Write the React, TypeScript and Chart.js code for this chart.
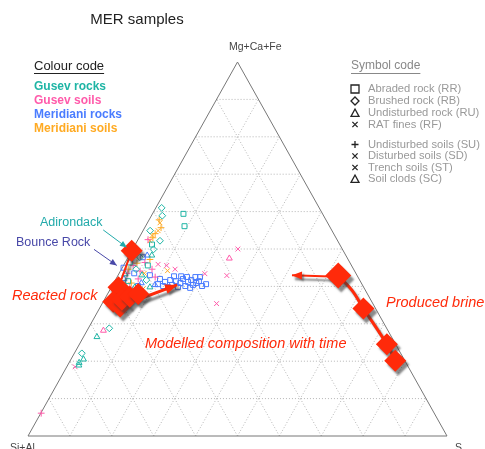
import React, { useEffect, useRef } from 'react';
import { Chart, registerables } from 'chart.js';
Chart.register(...registerables);

// Each point: [S %, Mg+Ca+Fe %]  (Si+Al = 100 - S - MgCaFe)
type P = [number, number];

const cornerLabels = ['Mg+Ca+Fe', 'Si+Al', 'S'];
const gridSteps = [10, 20, 30, 40, 50, 60, 70, 80, 90];

const seriesNames = ['Gusev rocks', 'Gusev soils', 'Meridiani rocks', 'Meridiani soils'];
const seriesColors = ['#1fb5a5', '#ff5aaa', '#4a7cff', '#ffaa22'];

const symbolNames = [
  'Abraded rock (RR)', 'Brushed rock (RB)', 'Undisturbed rock (RU)', 'RAT fines (RF)',
  'Undisturbed soils (SU)', 'Disturbed soils (SD)', 'Trench soils (ST)', 'Soil clods (SC)',
];
const symbolStyles = ['rect', 'rectRot', 'triangle', 'crossRot', 'cross', 'crossRot', 'crossRot', 'triangle'];

// Gusev rocks
const gusevRocksRR: P[] = [[7.4, 59.4], [9.3, 56.1], [4.0, 51.2], [1.1, 46.4], [3.2, 41.4], [5.8, 45.6]];
const gusevRocksRB: P[] = [[1.4, 61.0], [2.6, 58.9], [5.4, 52.2], [5.0, 49.9], [1.7, 54.9], [5.0, 28.8], [1.8, 22.1], [3.5, 44.6], [7.4, 41.7], [2.8, 47.8], [6.0, 37.7]];
const gusevRocksRU: P[] = [[5.4, 48.3], [3.2, 26.5], [3.0, 20.5], [2.4, 19.6], [2.7, 18.9], [7.0, 39.3], [5.7, 43.0], [5.6, 39.8], [1.5, 43.3], [9.2, 39.8]];
// Gusev soils
const gusevSoilsSU: P[] = [[2.4, 52.5], [2.3, 45.6], [4.7, 44.1], [4.7, 46.4], [7.3, 44.6], [5.3, 42.0], [4.4, 39.8], [9.1, 42.5], [0.1, 6.1], [1.9, 43.5]];
const gusevSoilsSD: P[] = [[25.1, 50.0], [20.5, 43.4], [26.0, 42.9], [27.3, 35.4], [8.1, 45.9], [10.3, 45.6], [2.0, 18.5], [12.8, 44.6]];
const gusevSoilsSC: P[] = [[24.3, 47.5], [3.9, 28.2]];
// Meridiani rocks
const meridianiRocksRR: P[] = [
  [10.5, 42.0], [12.1, 41.2], [13.1, 41.7], [14.2, 40.4], [14.6, 41.4], [15.9, 40.9], [16.0, 42.0],
  [17.5, 40.1], [17.6, 41.2], [18.1, 41.7], [19.2, 40.4], [19.7, 40.9], [20.1, 41.4], [21.5, 40.1],
  [22.2, 40.6], [15.9, 39.8], [13.5, 39.8], [12.2, 40.1], [16.7, 42.5], [18.7, 42.5], [15.2, 42.7],
  [13.5, 42.7], [10.7, 40.6], [19.8, 42.5], [18.9, 39.6],
  [0.3, 45.0], [3.5, 47.8], [3.6, 43.5], [4.8, 38.3], [6.2, 40.1], [7.6, 43.0],
];
const meridianiRocksRU: P[] = [[10.1, 40.4], [6.6, 40.9], [4.3, 48.3], [1.9, 42.0]];
// Meridiani soils
const meridianiSoilsSU: P[] = [[2.4, 57.8], [3.9, 55.7], [3.3, 53.0], [3.3, 54.1], [2.9, 46.2], [5.5, 47.2], [4.2, 40.9], [1.6, 44.6]];
const meridianiSoilsSD: P[] = [[3.0, 57.0], [3.6, 54.9], [3.0, 52.2], [2.8, 53.6], [11.2, 44.2], [6.0, 43.5], [7.8, 39.3]];

// Model (reacted rock and produced brine)
const reactedRockPath: P[] = [[0.0, 49.5], [1.7, 39.8]];
const reactedRockSteps: P[] = [[0.0, 49.5], [1.7, 39.8], [2.4, 35.9], [4.7, 34.6], [4.2, 36.4], [5.7, 37.2], [7.3, 38.0]];
const reactedRockArrow: P[] = [[8.4, 36.7], [15.4, 40.4]];
const brinePath: P[] = [[52.6, 42.9], [57.8, 39.0], [63.0, 34.1], [73.4, 24.5], [77.6, 20.1]];
const brineSteps: P[] = [[52.6, 42.9], [63.0, 34.1], [73.4, 24.5], [77.6, 20.1]];
const brineStepSizes = [13, 11, 11, 11];
const brineArrow: P[] = [[52.6, 42.6], [41.5, 43.0]];
// label pointers
const adirondackArrow: P[] = [[-9.6, 55.1], [-1.6, 50.4]];
const bounceRockArrow: P[] = [[-9.2, 49.9], [-1.6, 45.6]];

const RED = '#ff2a0a';
const FONT = '"Liberation Sans", Arial, sans-serif';

const toXY = (p: P) => ({ x: (p[0] + p[1] / 2) / 100, y: p[1] / 100 });

function drawSym(ctx: CanvasRenderingContext2D, style: string, x: number, y: number, r: number) {
  ctx.beginPath();
  if (style === 'rect') {
    ctx.rect(x - r, y - r, 2 * r, 2 * r);
  } else if (style === 'rectRot') {
    ctx.moveTo(x, y - r); ctx.lineTo(x + r, y); ctx.lineTo(x, y + r); ctx.lineTo(x - r, y); ctx.closePath();
  } else if (style === 'triangle') {
    ctx.moveTo(x, y - r); ctx.lineTo(x + r, y + r * 0.85); ctx.lineTo(x - r, y + r * 0.85); ctx.closePath();
  } else if (style === 'cross') {
    ctx.moveTo(x - r, y); ctx.lineTo(x + r, y); ctx.moveTo(x, y - r); ctx.lineTo(x, y + r);
  } else {
    const d = r * 0.75;
    ctx.moveTo(x - d, y - d); ctx.lineTo(x + d, y + d); ctx.moveTo(x + d, y - d); ctx.lineTo(x - d, y + d);
  }
  ctx.stroke();
}

const ternaryPlugin = {
  id: 'ternary',
  beforeDatasetsDraw(chart: any) {
    const { ctx } = chart;
    const xs = chart.scales.x, ys = chart.scales.y;
    const pt = (s: number, m: number) => [xs.getPixelForValue((s + m / 2) / 100), ys.getPixelForValue(m / 100)];
    const line = (a: number[], b: number[]) => { ctx.beginPath(); ctx.moveTo(a[0], a[1]); ctx.lineTo(b[0], b[1]); ctx.stroke(); };
    ctx.save();
    ctx.strokeStyle = '#b5b5b5';
    ctx.lineWidth = 1;
    ctx.setLineDash([1, 2]);
    gridSteps.forEach((k) => {
      line(pt(0, k), pt(100 - k, k));
      line(pt(k, 0), pt(k, 100 - k));
      line(pt(100 - k, 0), pt(0, 100 - k));
    });
    ctx.setLineDash([]);
    ctx.strokeStyle = '#777';
    ctx.beginPath();
    const a = pt(0, 100), b = pt(0, 0), c = pt(100, 0);
    ctx.moveTo(a[0], a[1]); ctx.lineTo(b[0], b[1]); ctx.lineTo(c[0], c[1]); ctx.closePath();
    ctx.stroke();
    ctx.restore();
  },
  beforeDatasetDraw(chart: any, args: any) {
    const ds = chart.data.datasets[args.index];
    if (ds.shadow) {
      const ctx = chart.ctx;
      ctx.save();
      ctx.shadowColor = 'rgba(60,60,60,0.6)';
      ctx.shadowOffsetX = 3;
      ctx.shadowOffsetY = 4;
      ctx.shadowBlur = 2;
    }
  },
  afterDatasetDraw(chart: any, args: any) {
    const ds = chart.data.datasets[args.index];
    if (ds.shadow) chart.ctx.restore();
  },
  afterDatasetsDraw(chart: any) {
    const { ctx } = chart;
    chart.data.datasets.forEach((ds: any, i: number) => {
      if (!ds.arrowHead) return;
      const pts = chart.getDatasetMeta(i).data;
      const a = pts[pts.length - 2], b = pts[pts.length - 1];
      const ang = Math.atan2(b.y - a.y, b.x - a.x);
      const L = ds.arrowHead[0], W = ds.arrowHead[1];
      const cx = b.x - L * Math.cos(ang), cy = b.y - L * Math.sin(ang);
      ctx.save();
      if (ds.shadow) {
        ctx.shadowColor = 'rgba(60,60,60,0.55)'; ctx.shadowOffsetX = 2; ctx.shadowOffsetY = 2; ctx.shadowBlur = 2;
      }
      ctx.fillStyle = ds.borderColor;
      ctx.beginPath();
      ctx.moveTo(b.x, b.y);
      ctx.lineTo(cx + (W / 2) * Math.sin(ang), cy - (W / 2) * Math.cos(ang));
      ctx.lineTo(cx - (W / 2) * Math.sin(ang), cy + (W / 2) * Math.cos(ang));
      ctx.closePath();
      ctx.fill();
      ctx.restore();
    });
  },
  afterDraw(chart: any) {
    const { ctx } = chart;
    ctx.save();
    ctx.textBaseline = 'middle';
    // title
    ctx.fillStyle = '#222';
    ctx.font = `15px ${FONT}`;
    ctx.textAlign = 'center';
    ctx.fillText('MER samples', 137, 20);
    // corner labels
    ctx.textAlign = 'left';
    ctx.font = `10.5px ${FONT}`;
    ctx.fillStyle = '#444';
    ctx.fillText(cornerLabels[0], 229, 47);
    ctx.textBaseline = 'top';
    ctx.fillText(cornerLabels[1], 10, 443);
    ctx.fillText(cornerLabels[2], 455, 443);
    ctx.textBaseline = 'middle';
    // colour code
    ctx.fillStyle = '#222';
    ctx.font = `13px ${FONT}`;
    ctx.fillText('Colour code', 34, 66);
    let w = ctx.measureText('Colour code').width;
    ctx.fillRect(34, 73, w, 1);
    ctx.font = `bold 12px ${FONT}`;
    seriesNames.forEach((n, i) => {
      ctx.fillStyle = seriesColors[i];
      ctx.fillText(n, 34, 87 + i * 14);
    });
    // symbol code
    ctx.fillStyle = '#888';
    ctx.font = `12px ${FONT}`;
    ctx.fillText('Symbol code', 351, 66);
    w = ctx.measureText('Symbol code').width;
    ctx.fillRect(351, 73, w, 1);
    ctx.font = `11.2px ${FONT}`;
    const symY = [89, 101, 113, 124.5, 144.5, 156, 167.5, 179];
    symbolNames.forEach((n, i) => {
      ctx.fillStyle = '#999';
      ctx.fillText(n, 368, symY[i]);
      ctx.strokeStyle = '#222';
      ctx.lineWidth = 1.3;
      drawSym(ctx, symbolStyles[i], 355, symY[i], i < 3 || i === 7 ? 4 : 3.5);
    });
    // annotations
    ctx.font = `12.5px ${FONT}`;
    ctx.fillStyle = '#22aaaa';
    ctx.fillText('Adirondack', 40, 223);
    ctx.fillStyle = '#4848a8';
    ctx.fillText('Bounce Rock', 16, 243);
    ctx.fillStyle = RED;
    ctx.font = `italic 14.5px ${FONT}`;
    ctx.fillText('Reacted rock', 12, 296);
    ctx.fillText('Modelled composition with time', 145, 344);
    ctx.fillText('Produced brine', 386, 303);
    ctx.restore();
  },
};

function scatterDs(data: P[], color: string, style: string, order = 5) {
  return {
    type: 'scatter',
    data: data.map(toXY),
    pointStyle: style,
    pointRadius: style === 'rect' ? 3.5 : 3.4,
    pointBorderWidth: 1,
    borderColor: color,
    backgroundColor: 'rgba(255,255,255,0)',
    showLine: false,
    order,
    clip: false,
  };
}

function lineDs(data: P[], color: string, width: number, extra: any = {}) {
  return {
    type: 'line',
    data: data.map(toXY),
    borderColor: color,
    backgroundColor: color,
    borderWidth: width,
    pointRadius: 0,
    showLine: true,
    fill: false,
    clip: false,
    order: 1,
    ...extra,
  };
}

export default function App() {
  const ref = useRef<HTMLCanvasElement>(null);
  useEffect(() => {
    if (!ref.current) return;
    const [cTeal, cPink, cBlue, cOrange] = seriesColors;
    const chart = new Chart(ref.current, {
      type: 'scatter',
      data: {
        datasets: [
          lineDs(reactedRockPath, RED, 2, { shadow: true }),
          {
            type: 'scatter',
            data: reactedRockSteps.map(toXY),
            pointStyle: 'rectRot',
            pointRadius: 11,
            pointBorderWidth: 0,
            borderColor: RED,
            backgroundColor: RED,
            order: 0,
            clip: false,
            shadow: true,
          },
          lineDs(reactedRockArrow, RED, 3, { shadow: true, arrowHead: [12, 10], order: 0 }),
          lineDs(brinePath, RED, 3, { shadow: true, tension: 0.35 }),
          {
            type: 'scatter',
            data: brineSteps.map(toXY),
            pointStyle: 'rectRot',
            pointRadius: brineStepSizes,
            pointBorderWidth: 0,
            borderColor: RED,
            backgroundColor: RED,
            order: 0,
            clip: false,
            shadow: true,
          },
          lineDs(brineArrow, RED, 2, { shadow: true, arrowHead: [10, 8] }),
          lineDs(adirondackArrow, '#22aaaa', 1, { arrowHead: [7, 6] }),
          lineDs(bounceRockArrow, '#4848a8', 1, { arrowHead: [7, 6] }),
          scatterDs(gusevRocksRR, cTeal, 'rect'),
          scatterDs(gusevRocksRB, cTeal, 'rectRot'),
          scatterDs(gusevRocksRU, cTeal, 'triangle'),
          scatterDs(gusevSoilsSU, cPink, 'cross'),
          scatterDs(gusevSoilsSD, cPink, 'crossRot'),
          scatterDs(gusevSoilsSC, cPink, 'triangle'),
          scatterDs(meridianiRocksRR, cBlue, 'rect'),
          scatterDs(meridianiRocksRU, cBlue, 'triangle'),
          scatterDs(meridianiSoilsSU, cOrange, 'cross'),
          scatterDs(meridianiSoilsSD, cOrange, 'crossRot'),
        ] as any,
      },
      options: {
        animation: false,
        responsive: false,
        maintainAspectRatio: false,
        layout: { padding: { left: 28, right: 38, top: 62, bottom: 8 } },
        scales: {
          x: { type: 'linear', min: 0, max: 1, display: false },
          y: { type: 'linear', min: 0, max: 1, display: false },
        },
        plugins: { legend: { display: false }, tooltip: { enabled: false }, title: { display: false } },
        events: [],
      },
      plugins: [ternaryPlugin],
    } as any);
    return () => chart.destroy();
  }, []);
  return (
    <div style={{ position: 'fixed', left: 0, top: 0, width: 485, height: 449, background: '#fff' }}>
      <canvas ref={ref} width={485} height={449} style={{ width: 485, height: 449, display: 'block' }} />
    </div>
  );
}
